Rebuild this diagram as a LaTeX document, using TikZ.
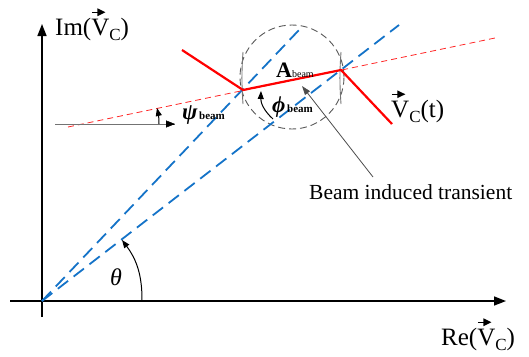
\documentclass[tikz,border=0pt]{standalone}
\usepackage{fontspec}
\setmainfont{Liberation Serif}
\usetikzlibrary{arrows.meta}
\definecolor{vblue}{RGB}{20,115,200}
\definecolor{vred}{RGB}{255,0,0}
\newcommand\myvecV{\leavevmode\rlap{\raisebox{0.76em}{\tikz\draw[black,line width=0.05em,-{Triangle[length=0.32em,width=0.3em]}] (0.12em,0pt) -- (0.66em,0pt);}}V}
\newcommand\subC{\raisebox{-0.2em}{\fontsize{17}{17}\selectfont C}}
\tikzset{
  axis/.style={line width=1.6pt,-{Triangle[length=12pt,width=9pt]}},
  bluedash/.style={vblue,line width=1.8pt,dash pattern=on 13pt off 7pt},
  reddash/.style={vred!85,line width=0.8pt,dash pattern=on 6pt off 4pt},
  redline/.style={vred,line width=2.2pt,line join=miter},
  grayline/.style={black!55,line width=0.9pt},
  smallarrow/.style={black,line width=1pt,-{Triangle[length=8pt,width=6pt]}},
  bigtext/.style={inner sep=0pt,font=\fontsize{25}{25}\selectfont},
}
\begin{document}
\begin{tikzpicture}[x=1pt,y=-1pt]
\useasboundingbox (0,0) rectangle (529,356);
% coordinates
\coordinate (O) at (42,301);
\coordinate (xs) at (10,301);
\coordinate (xe) at (506,301);
\coordinate (ys) at (42,317);
\coordinate (ye) at (42,24);
\coordinate (b1) at (299,30);
\coordinate (b2) at (399,25);
\coordinate (rd0) at (68,127);
\coordinate (rd1) at (495,38);
\coordinate (R0) at (182,50);
\coordinate (R1) at (243,90);
\coordinate (R2) at (341,70);
\coordinate (R3) at (392,124);
\coordinate (h0) at (55,124);
\coordinate (h1) at (175,124);
\coordinate (h1b) at (174,124);
\coordinate (psiA) at (159,124);
\coordinate (psiB) at (157,108);
\coordinate (phiA) at (273,119);
\coordinate (phiB) at (261,91);
\coordinate (thA) at (142,301);
\coordinate (thB) at (122,240);
\coordinate (ptA) at (373,177);
\coordinate (ptB) at (302,86);
\coordinate (g1a) at (243,52);
\coordinate (g1b) at (243,104);
\coordinate (g2a) at (341,52);
\coordinate (g2b) at (341,104);
% dashed circle
\node[draw=black!65,line width=0.9pt,dash pattern=on 7pt off 4pt,circle,minimum size=104pt,inner sep=0pt] (circ) at (292,77) {};
% axes
\draw[axis] (xs) -- (xe);
\draw[axis] (ys) -- (ye);
% blue dashed vectors
\draw[bluedash] (O) -- (b1);
\draw[bluedash] (O) -- (b2);
% red dashed line
\draw[reddash] (rd0) -- (rd1);
% gray reference line
\draw[grayline] (h0) -- (h1);
\draw[-{Triangle[length=9pt,width=7pt]},black] (h1b) -- (h1);
% gray vertical marks
\draw[grayline] (g1a) to[bend right=4] (g1b);
\draw[grayline] (g2a) to[bend right=4] (g2b);
% red solid trajectory
\draw[redline] (R0) -- (R1) -- (R2) -- (R3);
% angle arcs
\draw[smallarrow] (psiA) to[bend right=6] (psiB);
\draw[smallarrow] (phiA) to[bend left=25] (phiB);
\draw[smallarrow] (thA) to[bend right=18.6] (thB);
% pointer
\draw[black!70,line width=0.8pt,-{Triangle[length=9pt,width=6pt]}] (ptA) -- (ptB);
% labels
\node[bigtext,anchor=base west] (imlab) at (55,35) {Im(\myvecV\subC)};
\node[bigtext,anchor=base west] (relab) at (441,345) {Re(\myvecV\subC)};
\node[bigtext,anchor=base west] (vclab) at (391,117) {\myvecV\subC(t)};
\node[inner sep=0pt,anchor=base west,font=\fontsize{21.5}{21.5}\selectfont] (bit) at (309,199) {Beam induced transient};
\node[inner sep=0pt,anchor=base west] (alab) at (276,77) {{\fontsize{22}{22}\selectfont\bfseries A}{\fontsize{10}{10}\selectfont beam}};
\node[inner sep=0pt,anchor=base west] (philab) at (272,112) {{\fontsize{23}{23}\selectfont\bfseries\itshape ϕ}\,{\fontsize{11}{11}\selectfont\bfseries beam}};
\node[inner sep=0pt,anchor=base west] (psilab) at (182,119) {{\fontsize{23}{23}\selectfont\bfseries\itshape ψ}\,{\fontsize{11}{11}\selectfont\bfseries beam}};
\node[inner sep=0pt,font=\fontsize{24}{24}\selectfont\itshape] (thlab) at (116,277) {θ};
\end{tikzpicture}
\end{document}
